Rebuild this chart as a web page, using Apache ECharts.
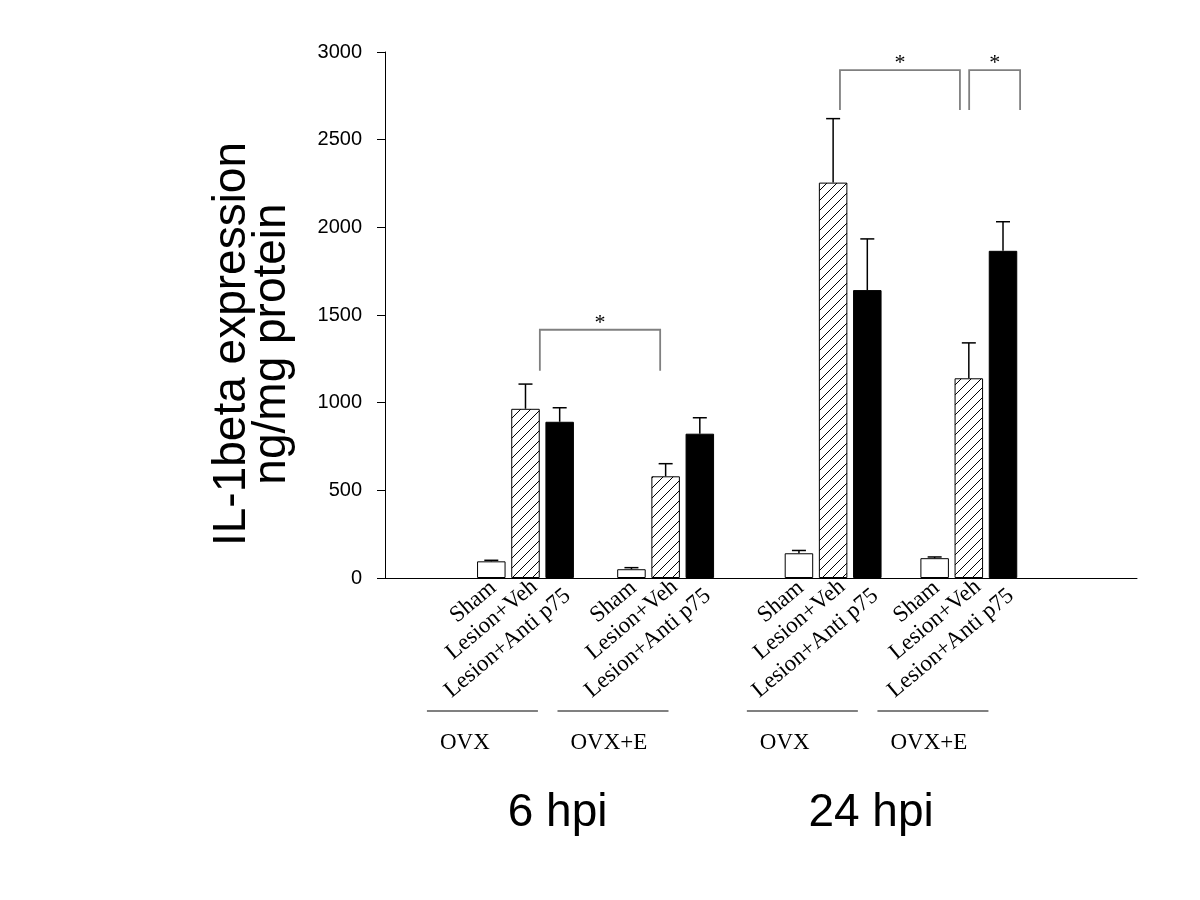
<!DOCTYPE html>
<html><head><meta charset="utf-8">
<script src="https://cdn.jsdelivr.net/npm/echarts@6/dist/echarts.min.js"></script>
<style>html,body{margin:0;padding:0;background:#fff}#chart{width:1200px;height:900px}</style>
</head><body><div id="chart"></div>
<script>
// ---------------- data ----------------
const treatments = ['Sham', 'Lesion+Veh', 'Lesion+Anti p75'];
const conditions = ['OVX', 'OVX+E', 'OVX', 'OVX+E'];
const timepoints = ['6 hpi', '24 hpi'];
const shamValues = [95, 50, 141, 113];
const shamErrors = [6, 9, 16, 7];
const vehValues = [965, 580, 2255, 1139];
const vehErrors = [141, 72, 365, 202];
const antiValues = [891, 823, 1642, 1866];
const antiErrors = [80, 91, 292, 166];
const yTicks = [0, 500, 1000, 1500, 2000, 2500, 3000];
const yTitle = ['IL-1beta expression', 'ng/mg protein'];
const sigLabels = ['*', '*', '*'];
const sigTops = [1416, 2897, 2897];
const sigBottoms = [1182, 2669, 2669];

// ---------------- layout (axis units: 1 = one bar slot) ----------------
const groupCenters = [4.11, 8.21, 13.11, 17.08];
const barStep = 1.0;
const sigSpans = [[4.53, 8.05], [13.31, 16.82], [17.09, 18.58]];
const condLineCenters = [2.85, 6.67, 12.21, 16.03];
const timeCenters = [5.05, 14.22];
const labelOffsets = [[2, 7], [9, 6], [8, 15]]; // px offset of rotated label end from bar foot

const seriesValues = [shamValues, vehValues, antiValues];
const seriesErrors = [shamErrors, vehErrors, antiErrors];
const xOf = (g, t) => groupCenters[g] + (t - 1) * barStep;

function hatchCanvas() {
  const c = document.createElement('canvas');
  c.width = 10; c.height = 10;
  const g = c.getContext('2d');
  g.fillStyle = '#fff'; g.fillRect(0, 0, 10, 10);
  g.strokeStyle = '#000'; g.lineWidth = 1;
  g.beginPath();
  g.moveTo(0, 10); g.lineTo(10, 0);
  g.moveTo(-2, 2); g.lineTo(2, -2);
  g.moveTo(8, 12); g.lineTo(12, 8);
  g.stroke();
  return c;
}

const barStyles = [
  { color: '#fff', borderColor: '#000', borderWidth: 1 },
  { color: { image: hatchCanvas(), repeat: 'repeat' }, borderColor: '#000', borderWidth: 1 },
  { color: '#000', borderColor: '#000', borderWidth: 1 }
];

const barSeries = treatments.map((name, t) => ({
  name, type: 'bar', barWidth: 28.5, barGap: '-100%',
  itemStyle: barStyles[t],
  data: seriesValues[t].map((v, g) => [xOf(g, t), v]),
  z: 2, silent: true
}));

const errData = [];
treatments.forEach((_, t) => seriesValues[t].forEach((v, g) => errData.push([xOf(g, t), v, seriesErrors[t][g]])));

const labelData = [];
treatments.forEach((_, t) => groupCenters.forEach((c, g) => labelData.push([xOf(g, t), 0, t])));

const SERIF = '"Liberation Serif", "Times New Roman", serif';
const SANS = '"Liberation Sans", Arial, sans-serif';

const option = {
  animation: false,
  backgroundColor: '#fff',
  grid: { left: 385, right: 63, top: 52, bottom: 322, containLabel: false },
  xAxis: {
    type: 'value', min: 0, max: 22,
    axisLine: { show: true, onZero: true, lineStyle: { color: '#000', width: 1 } },
    axisTick: { show: false }, axisLabel: { show: false }, splitLine: { show: false }
  },
  yAxis: {
    type: 'value', min: yTicks[0], max: yTicks[yTicks.length - 1], interval: 500,
    axisLine: { show: true, lineStyle: { color: '#000', width: 1 } },
    axisTick: { show: true, inside: false, length: 8, lineStyle: { color: '#000', width: 1 } },
    axisLabel: { color: '#000', fontFamily: SANS, fontSize: 20, margin: 23, formatter: v => String(v) },
    splitLine: { show: false }
  },
  series: [
    ...barSeries,
    {
      type: 'custom', name: 'errors', clip: false, z: 3, silent: true,
      data: errData,
      renderItem: (params, api) => {
        const x = api.value(0), y = api.value(1), e = api.value(2);
        const p0 = api.coord([x, y]), p1 = api.coord([x, y + e]);
        const st = { stroke: '#000', lineWidth: 1.5 };
        return { type: 'group', children: [
          { type: 'line', shape: { x1: p0[0], y1: p0[1], x2: p1[0], y2: p1[1] }, style: st },
          { type: 'line', shape: { x1: p1[0] - 7, y1: p1[1], x2: p1[0] + 7, y2: p1[1] }, style: st }
        ] };
      }
    },
    {
      type: 'custom', name: 'xlabels', clip: false, silent: true,
      data: labelData,
      renderItem: (params, api) => {
        const p = api.coord([api.value(0), 0]);
        const off = labelOffsets[api.value(2)];
        return { type: 'text', x: p[0] + off[0], y: p[1] + off[1], rotation: 40 * Math.PI / 180,
          style: { text: treatments[api.value(2)], align: 'right', verticalAlign: 'middle',
            font: '23px ' + SERIF, fill: '#000' } };
      }
    },
    {
      type: 'custom', name: 'conditions', clip: false, silent: true,
      data: condLineCenters.map((c, i) => [c, 0, i]),
      renderItem: (params, api) => {
        const p = api.coord([api.value(0), 0]);
        const x0 = p[0] - 55.5, x1 = p[0] + 55.5, ly = p[1] + 133;
        return { type: 'group', children: [
          { type: 'line', shape: { x1: x0, y1: ly, x2: x1, y2: ly }, style: { stroke: '#808080', lineWidth: 2 } },
          { type: 'text', x: x0 + 13, y: ly + 32, style: { text: conditions[api.value(2)], align: 'left',
            verticalAlign: 'middle', font: '23px ' + SERIF, fill: '#000' } }
        ] };
      }
    },
    {
      type: 'custom', name: 'timepoints', clip: false, silent: true,
      data: timeCenters.map((c, i) => [c, 0, i]),
      renderItem: (params, api) => {
        const p = api.coord([api.value(0), 0]);
        return { type: 'text', x: p[0], y: p[1] + 235, style: { text: timepoints[api.value(2)],
          align: 'center', verticalAlign: 'middle', font: '46px ' + SANS, fill: '#000' } };
      }
    },
    {
      type: 'custom', name: 'significance', clip: false, silent: true,
      data: sigSpans.map((s, i) => [s[0], s[1], sigTops[i], sigBottoms[i], i]),
      renderItem: (params, api) => {
        const a = api.coord([api.value(0), api.value(2)]);
        const b = api.coord([api.value(1), api.value(3)]);
        const st = { stroke: '#808080', lineWidth: 1.8, fill: null };
        return { type: 'group', children: [
          { type: 'polyline', shape: { points: [[a[0], b[1]], [a[0], a[1]], [b[0], a[1]], [b[0], b[1]]] }, style: st },
          { type: 'text', x: (a[0] + b[0]) / 2, y: a[1] - 7, style: { text: sigLabels[api.value(4)],
            align: 'center', verticalAlign: 'middle', font: '22px ' + SERIF, fill: '#000' } }
        ] };
      }
    }
  ],
  graphic: [{
    type: 'text', x: 252, y: 344, rotation: Math.PI / 2,
    style: { text: yTitle.join('\n'), align: 'center', verticalAlign: 'middle',
      font: '46px ' + SANS, lineHeight: 40, fill: '#000' }
  }]
};

const chart = echarts.init(document.getElementById('chart'), null, { renderer: 'canvas' });
chart.setOption(option);
</script>
</body></html>
